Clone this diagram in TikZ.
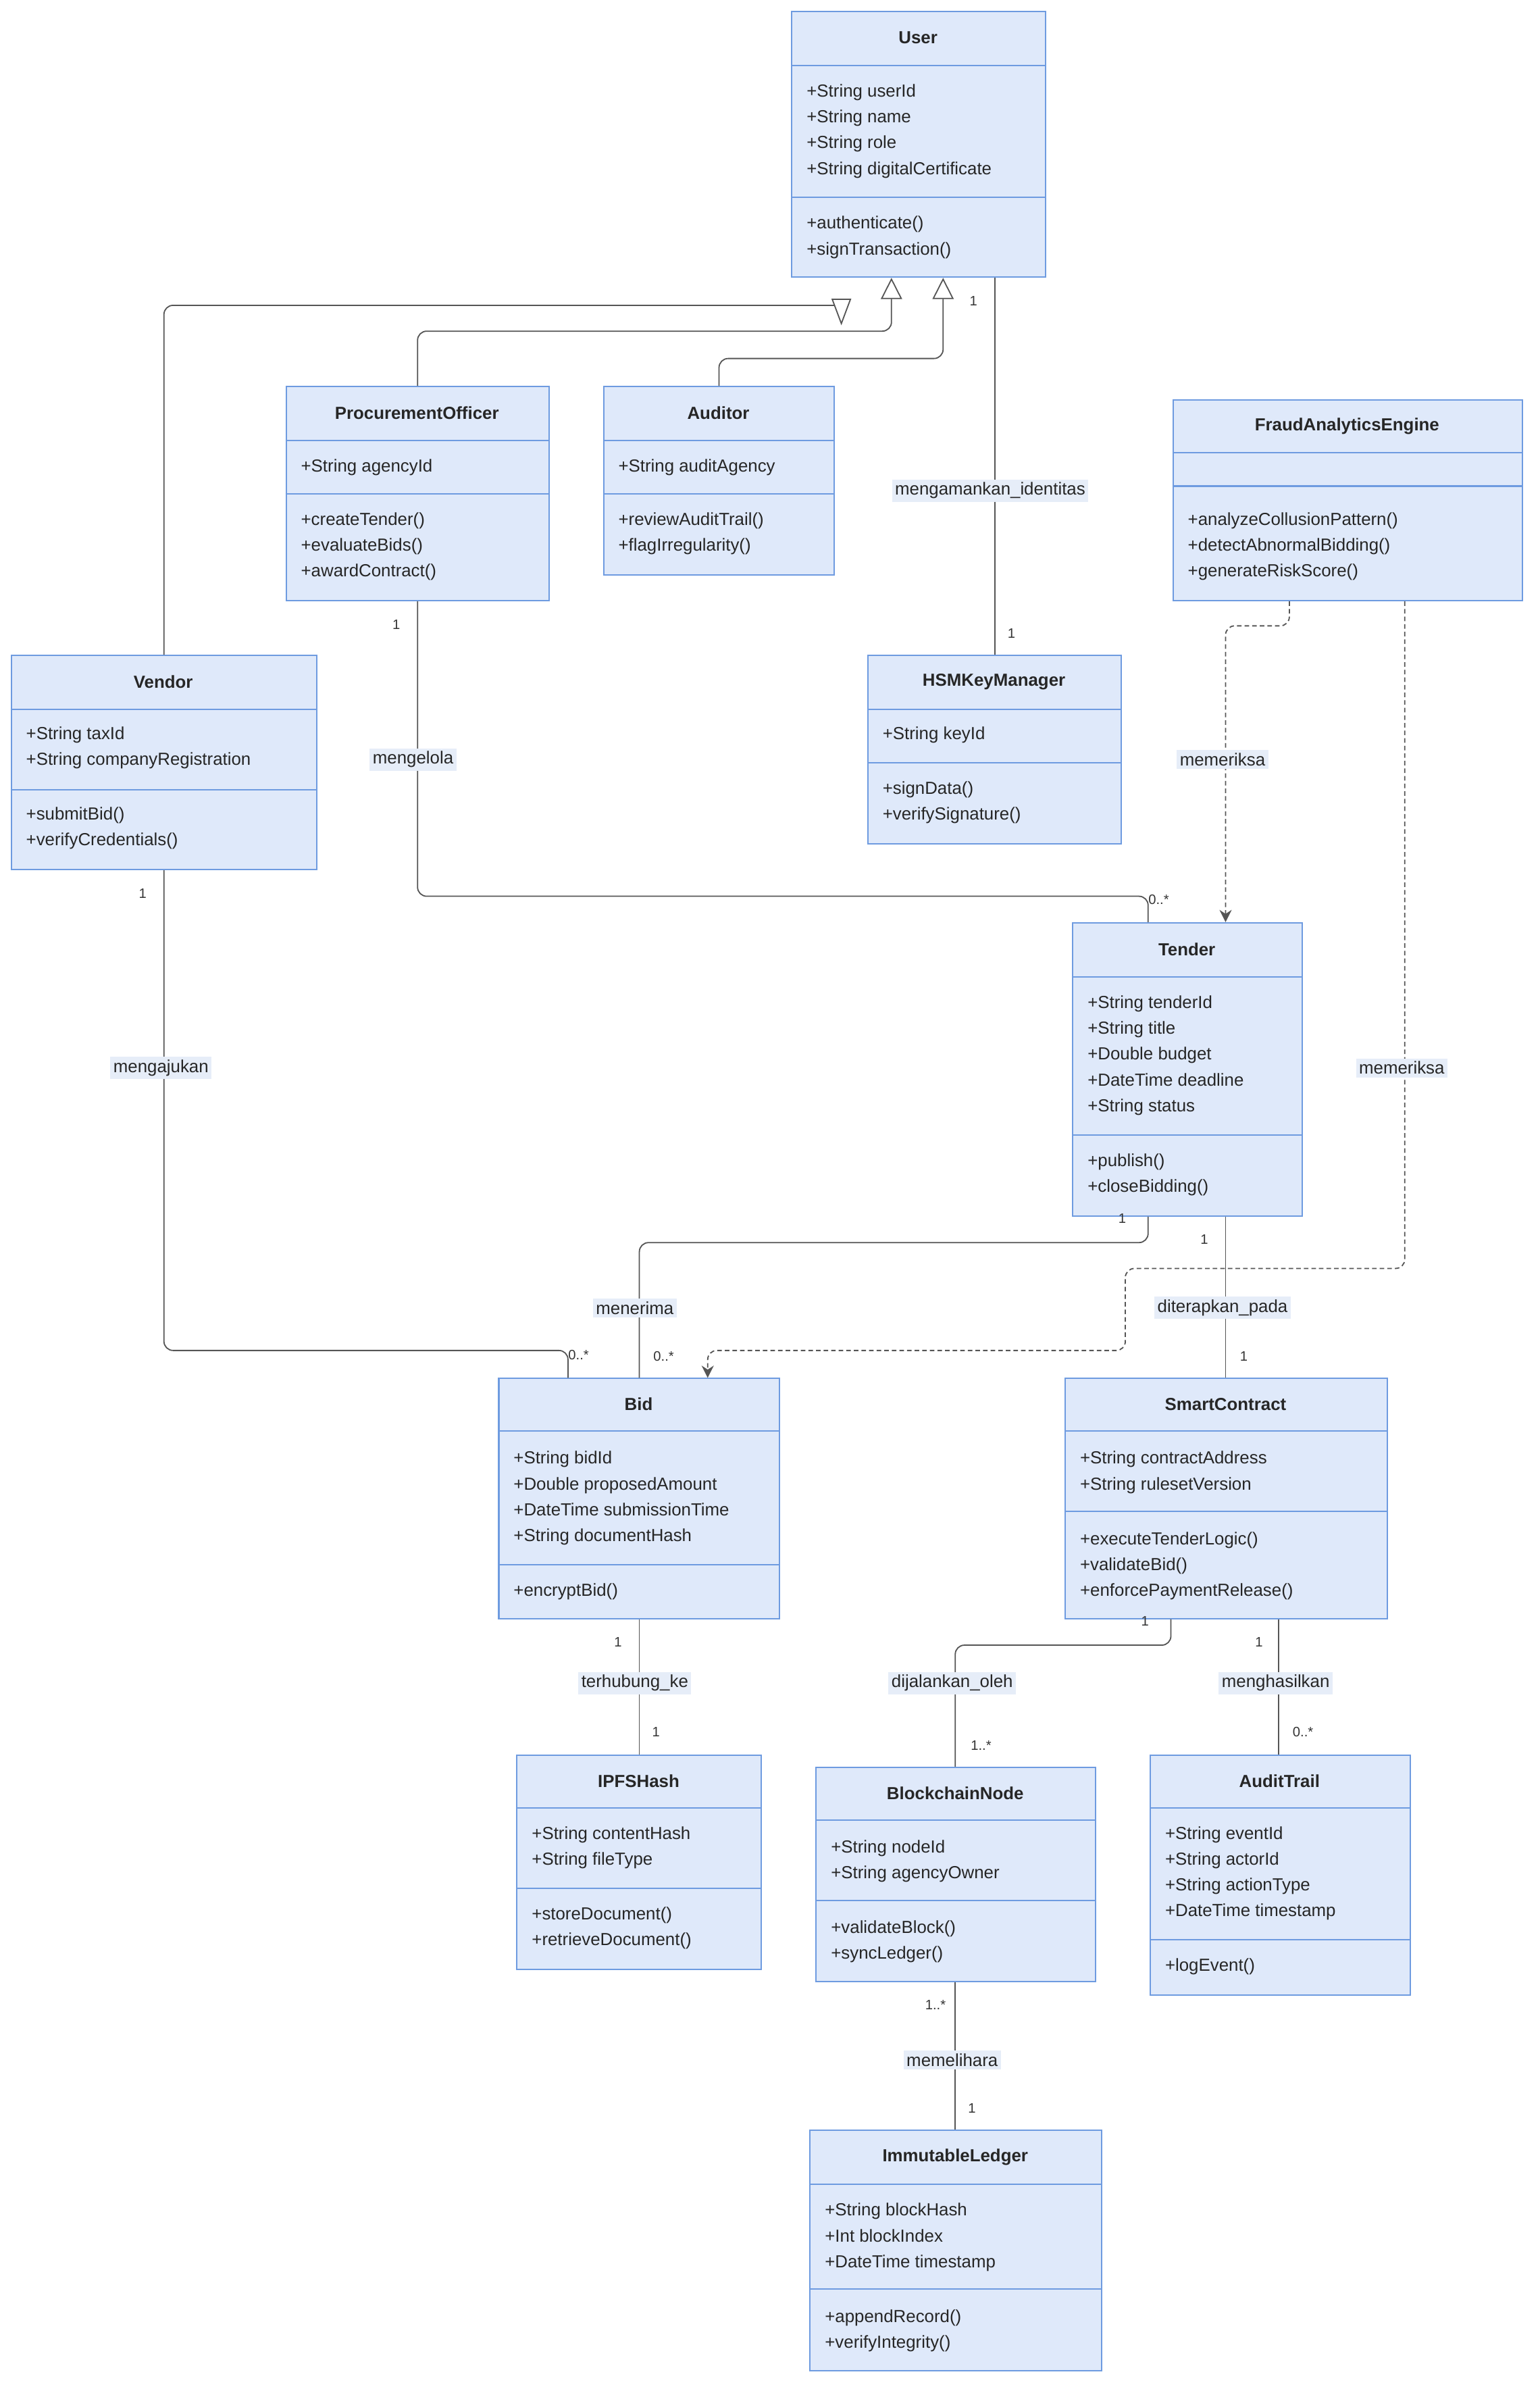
\documentclass[tikz,border=0pt]{standalone}
\usepackage{fontspec}
\setmainfont{Liberation Sans}
\usetikzlibrary{arrows.meta,calc}
\definecolor{clsfill}{HTML}{DFE9FA}
\definecolor{clsdraw}{HTML}{6E9BE0}
\definecolor{edge}{HTML}{555555}
\definecolor{lblbg}{HTML}{E6EDF8}
\tikzset{
 cls/.style={draw=clsdraw,fill=clsfill,line width=0.9pt,inner sep=0pt,rectangle},
 clsline/.style={draw=clsdraw,line width=0.9pt},
 txt/.style={anchor=west,inner sep=0pt,font=\fontsize{11.5}{13}\selectfont,text height=8pt,text depth=2.5pt,text=black!85},
 ttl/.style={inner sep=0pt,font=\fontsize{11.5}{13}\selectfont\bfseries,text=black!85},
 conn/.style={draw=edge,line width=0.8pt,rounded corners=6pt},
 dep/.style={conn,dashed,dash pattern=on 3pt off 2pt,-{Stealth[length=8pt,width=8pt]}},
 inh/.style={conn,-{Triangle[open,length=14pt,width=14pt,fill=white]}},
 lbl/.style={fill=lblbg,inner sep=2pt,font=\fontsize{11.5}{13}\selectfont,text=black!85},
 mult/.style={inner sep=0pt,font=\fontsize{9}{10}\selectfont,text=black!80},
}
\newcommand\umlbox[9]{% name x1 y1 x2 y2 h1 h2 title id
 \node[cls,anchor=north west,minimum width={(#4-#2)*1pt},minimum height={(#5-#3)*1pt}] (#1) at (#2,-#3) {};
 \draw[clsline] (#2,-#6) -- (#4,-#6);
 \draw[clsline] (#2,-#7) -- (#4,-#7);
 \node[ttl] (#1t) at ({(#2+#4)/2},{-(#3+#6)/2}) {#8};}
\newcommand\lines[3]{%
 \foreach \t [count=\i] in {#3} \node[txt] at (#1,{-#2-17*(\i-1)}) {\t};}
\begin{document}
\begin{tikzpicture}[x=1pt,y=1pt]
\useasboundingbox (0,0) rectangle (1014,-1574);
\fill[white] (0,0) rectangle (1014,-1574);
% classes
\umlbox{user}{521}{7}{688}{182}{43}{130}{User}{}
\lines{531}{61}{+String userId,+String name,+String role,+String digitalCertificate}
\lines{531}{148}{+authenticate(),+signTransaction()}
\umlbox{po}{188}{254}{361}{395}{290}{325}{ProcurementOfficer}{}
\lines{198}{308}{+String agencyId}
\lines{198}{343}{+createTender(),+evaluateBids(),+awardContract()}
\umlbox{aud}{397}{254}{549}{378}{290}{325}{Auditor}{}
\lines{407}{308}{+String auditAgency}
\lines{407}{343}{+reviewAuditTrail(),+flagIrregularity()}
\umlbox{fae}{772}{263}{1002}{395}{298}{320}{FraudAnalyticsEngine}{}
\lines{782}{343}{+analyzeCollusionPattern(),+detectAbnormalBidding(),+generateRiskScore()}
\umlbox{ven}{7}{431}{208}{572}{467}{520}{Vendor}{}
\lines{17}{484}{+String taxId,+String companyRegistration}
\lines{17}{537}{+submitBid(),+verifyCredentials()}
\umlbox{hsm}{571}{431}{738}{555}{467}{502}{HSMKeyManager}{}
\lines{581}{484}{+String keyId}
\lines{581}{520}{+signData(),+verifySignature()}
\umlbox{ten}{706}{607}{857}{800}{643}{747}{Tender}{}
\lines{716}{661}{+String tenderId,+String title,+Double budget,+DateTime deadline,+String status}
\lines{716}{765}{+publish(),+closeBidding()}
\umlbox{bid}{328}{907}{513}{1065}{942}{1030}{Bid}{}
\lines{338}{961}{+String bidId,+Double proposedAmount,+DateTime submissionTime,+String documentHash}
\lines{338}{1048}{+encryptBid()}
\umlbox{sc}{701}{907}{913}{1065}{942}{995}{SmartContract}{}
\lines{711}{961}{+String contractAddress,+String rulesetVersion}
\lines{711}{1014}{+executeTenderLogic(),+validateBid(),+enforcePaymentRelease()}
\umlbox{ipfs}{340}{1155}{501}{1296}{1190}{1243}{IPFSHash}{}
\lines{350}{1208}{+String contentHash,+String fileType}
\lines{350}{1261}{+storeDocument(),+retrieveDocument()}
\umlbox{bn}{537}{1163}{721}{1304}{1198}{1251}{BlockchainNode}{}
\lines{547}{1217}{+String nodeId,+String agencyOwner}
\lines{547}{1270}{+validateBlock(),+syncLedger()}
\umlbox{at}{757}{1155}{928}{1313}{1190}{1277}{AuditTrail}{}
\lines{767}{1208}{+String eventId,+String actorId,+String actionType,+DateTime timestamp}
\lines{767}{1295}{+logEvent()}
\umlbox{led}{533}{1402}{725}{1560}{1438}{1507}{ImmutableLedger}{}
\lines{543}{1456}{+String blockHash,+Int blockIndex,+DateTime timestamp}
\lines{543}{1526}{+appendRecord(),+verifyIntegrity()}
% helper x coordinates
\coordinate (x554) at (554,-201);
\coordinate (x587) at (587,0);
\coordinate (x621) at (621,0);
\coordinate (x655) at (655,0);
\coordinate (x756) at (756,0);
\coordinate (x807) at (807,0);
\coordinate (x849) at (849,0);
\coordinate (x925) at (925,0);
\coordinate (x374) at (374,0);
\coordinate (x421) at (421,0);
\coordinate (x466) at (466,0);
\coordinate (x771) at (771,0);
\coordinate (x842) at (842,0);
\coordinate (x629) at (629,0);
% inheritance
\draw[conn] (ven.north) |- (x554);
\draw[draw=edge,line width=0.8pt,fill=white] (548,-197) -- (560,-197) -- (554,-213) -- cycle;
\draw[inh] (po.north) |- (587,-218) -- (user.south -| x587);
\draw[inh] (aud.north) |- (621,-236) -- (user.south -| x621);
% associations
\draw[conn] (user.south -| x655) -- (hsm.north -| x655);
\draw[conn] (po.south) |- (740,-590) -| (ten.north -| x756);
\draw[dep] (fae.south -| x849) |- (807,-412) -- (ten.north -| x807);
\draw[dep] (fae.south -| x925) |- (741,-835) |- (466,-889) -- (bid.north -| x466);
\draw[conn] (ven.south) |- (374,-889) -- (bid.north -| x374);
\draw[conn] (ten.south -| x756) |- (421,-818) -- (bid.north -| x421);
\draw[conn] (ten.south -| x807) -- (sc.north -| x807);
\draw[conn] (bid.south -| x421) -- (ipfs.north -| x421);
\draw[conn] (sc.south -| x771) |- (629,-1083) -- (bn.north -| x629);
\draw[conn] (sc.south -| x842) -- (at.north -| x842);
\draw[conn] (bn.south -| x629) -- (led.north -| x629);
% labels
\node[lbl] (l1) at (652,-323) {mengamankan\_identitas};
\node[lbl] (l2) at (272,-500) {mengelola};
\node[lbl] (l3) at (805,-500) {memeriksa};
\node[lbl] (l4) at (923,-703) {memeriksa};
\node[lbl] (l5) at (106,-703) {mengajukan};
\node[lbl] (l6) at (418,-861) {menerima};
\node[lbl] (l7) at (805,-861) {diterapkan\_pada};
\node[lbl] (l8) at (418,-1108) {terhubung\_ke};
\node[lbl] (l9) at (627,-1108) {dijalankan\_oleh};
\node[lbl] (l10) at (840,-1108) {menghasilkan};
\node[lbl] (l11) at (627,-1356) {memelihara};
% multiplicities
\node[mult] (m1) at (641,-198) {1};
\node[mult] (m2) at (666,-417) {1};
\node[mult] (m3) at (261,-411) {1};
\node[mult] (m4) at (763,-592) {0..*};
\node[mult] (m5) at (94,-588) {1};
\node[mult] (m6) at (381,-892) {0..*};
\node[mult] (m7) at (739,-802) {1};
\node[mult] (m8) at (437,-893) {0..*};
\node[mult] (m9) at (793,-816) {1};
\node[mult] (m10) at (819,-893) {1};
\node[mult] (m11) at (407,-1081) {1};
\node[mult] (m12) at (432,-1140) {1};
\node[mult] (m13) at (754,-1067) {1};
\node[mult] (m14) at (646,-1149) {1..*};
\node[mult] (m15) at (829,-1081) {1};
\node[mult] (m16) at (858,-1140) {0..*};
\node[mult] (m17) at (616,-1320) {1..*};
\node[mult] (m18) at (640,-1388) {1};
\end{tikzpicture}
\end{document}
